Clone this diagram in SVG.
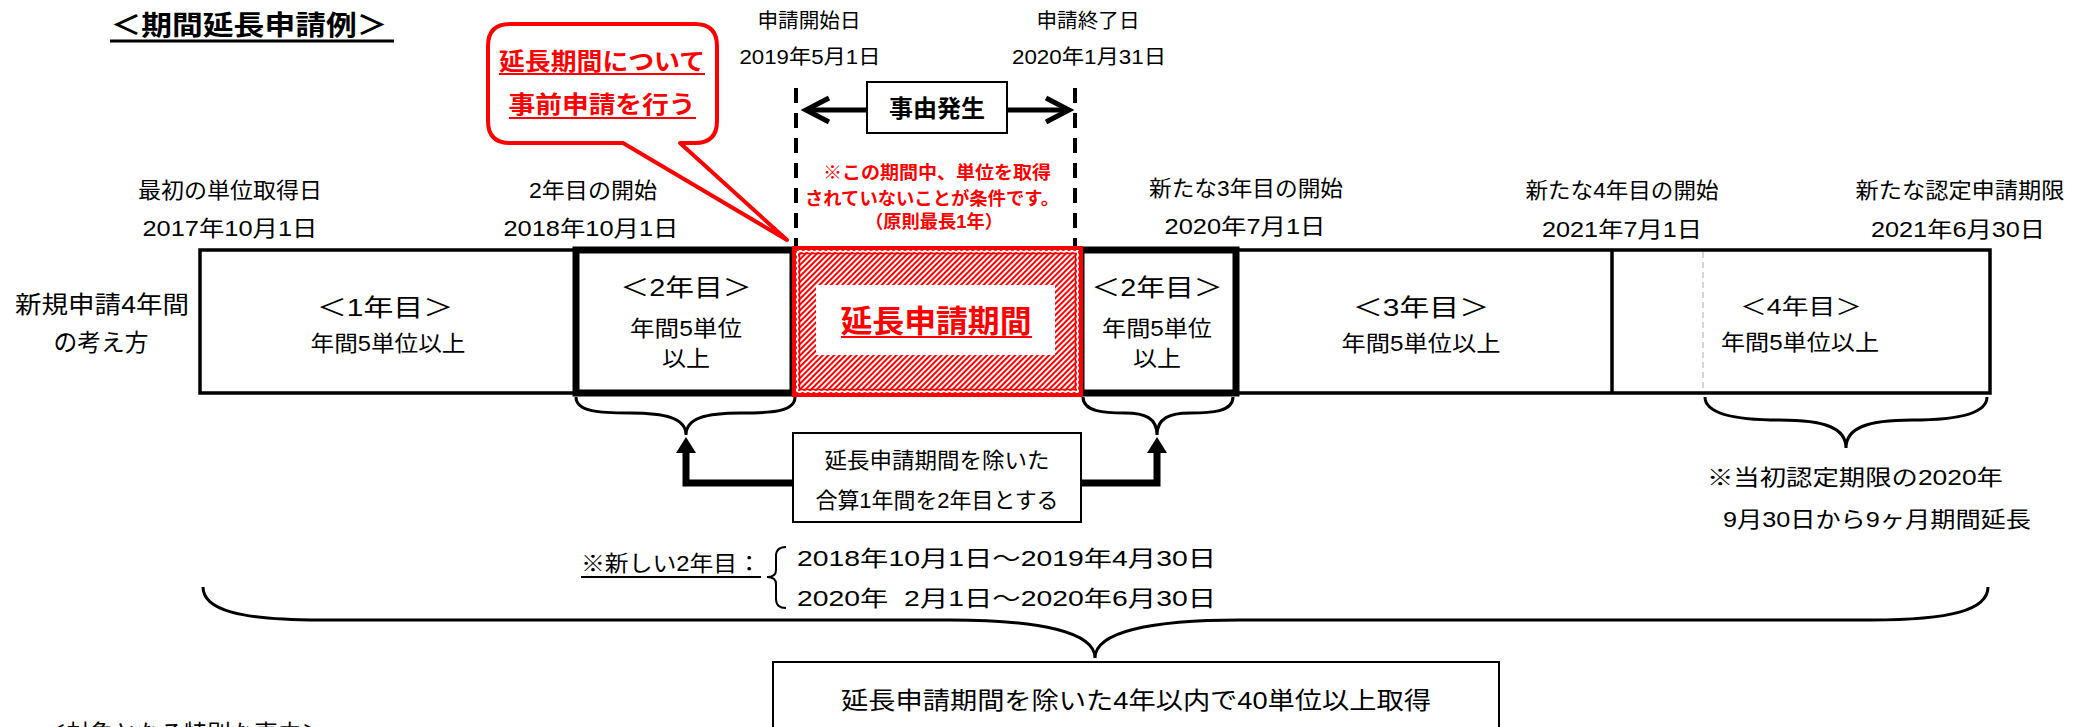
<svg xmlns="http://www.w3.org/2000/svg" width="2087" height="727" viewBox="0 0 2087 727">
<style>
text{font-family:"Liberation Sans","Noto Sans CJK JP",sans-serif;fill:#000;}
.c{text-anchor:middle;}
.b{font-weight:bold;}
.r{fill:#ff0000;}
.t20{font-size:20px;}
.t21{font-size:21.5px;}
.t22{font-size:22px;}
.t23{font-size:23.5px;}
.t24{font-size:24px;}
.pre{white-space:pre;}
.box{fill:#fff;stroke:#000;stroke-width:2;}
.brace{fill:none;stroke:#000;stroke-width:3;}
.conn{fill:none;stroke:#000;stroke-width:7;}
.dash{fill:none;stroke:#000;stroke-width:4;stroke-dasharray:15 10;}
.ul{stroke:#000;stroke-width:2;}
.ulr{stroke:#ff0000;stroke-width:2;}
</style>
<defs>
<pattern id="hatch" width="4" height="4" patternUnits="userSpaceOnUse" patternTransform="rotate(45)">
<rect width="4" height="4" fill="#fff"/>
<line x1="1" y1="0" x2="1" y2="4" stroke="#ff0000" stroke-width="2"/>
</pattern>
</defs>
<rect width="2087" height="727" fill="#fff"/>

<g id="title">
<text class="b" x="249" y="35" font-size="27" text-anchor="middle" textLength="277" lengthAdjust="spacingAndGlyphs">＜期間延長申請例＞</text>
<line x1="110" y1="41" x2="394" y2="41" stroke="#000" stroke-width="3"/>
</g>

<g id="callout">
<path d="M510,24 H695 Q717,24 717,46 V121 Q717,143 695,143 H680 L787,240 L623,143 H510 Q488,143 488,121 V46 Q488,24 510,24 Z" fill="#fff" stroke="#ff0000" stroke-width="4" stroke-linejoin="round"/>
<text class="b r c" x="602" y="70" font-size="24" textLength="206" lengthAdjust="spacingAndGlyphs">延長期間について</text>
<line class="ulr" x1="499" y1="74" x2="705" y2="74"/>
<text class="b r c" x="602" y="113" font-size="24" textLength="187" lengthAdjust="spacingAndGlyphs">事前申請を行う</text>
<line class="ulr" x1="509" y1="118" x2="696" y2="118"/>
</g>

<g id="labels-top">
<text class="c t20" x="809" y="28" textLength="103" lengthAdjust="spacingAndGlyphs">申請開始日</text>
<text class="c t20" x="810" y="64" textLength="141" lengthAdjust="spacingAndGlyphs">2019年5月1日</text>
<text class="c t20" x="1088" y="28" textLength="103" lengthAdjust="spacingAndGlyphs">申請終了日</text>
<text class="c t20" x="1089" y="64" textLength="154" lengthAdjust="spacingAndGlyphs">2020年1月31日</text>
<text class="c t21" x="230" y="198" textLength="184" lengthAdjust="spacingAndGlyphs">最初の単位取得日</text>
<text class="c t21" x="230" y="236" textLength="175" lengthAdjust="spacingAndGlyphs">2017年10月1日</text>
<text class="c t21" x="593" y="198" textLength="128" lengthAdjust="spacingAndGlyphs">2年目の開始</text>
<text class="c t21" x="591" y="236" textLength="175" lengthAdjust="spacingAndGlyphs">2018年10月1日</text>
<text class="c t21" x="1246" y="196" textLength="194" lengthAdjust="spacingAndGlyphs">新たな3年目の開始</text>
<text class="c t21" x="1245" y="234" textLength="161" lengthAdjust="spacingAndGlyphs">2020年7月1日</text>
<text class="c t21" x="1622" y="198" textLength="193" lengthAdjust="spacingAndGlyphs">新たな4年目の開始</text>
<text class="c t21" x="1622" y="237" textLength="160" lengthAdjust="spacingAndGlyphs">2021年7月1日</text>
<text class="c t21" x="1960" y="198" textLength="209" lengthAdjust="spacingAndGlyphs">新たな認定申請期限</text>
<text class="c t21" x="1958" y="237" textLength="174" lengthAdjust="spacingAndGlyphs">2021年6月30日</text>
<text class="c t23" x="102" y="313" textLength="174" lengthAdjust="spacingAndGlyphs">新規申請4年間</text>
<text class="c t23" x="101" y="351" textLength="95" lengthAdjust="spacingAndGlyphs">の考え方</text>
</g>

<g id="event">
<line class="dash" x1="796" y1="88" x2="796" y2="248"/>
<line class="dash" x1="1075" y1="88" x2="1075" y2="248"/>
<line x1="806" y1="110" x2="1068" y2="110" stroke="#000" stroke-width="5"/>
<path d="M829,98 L806,110 L829,122 M1046,98 L1069,110 L1046,122" fill="none" stroke="#000" stroke-width="5" stroke-linejoin="miter"/>
<rect class="box" x="867" y="82" width="140" height="51"/>
<text class="c b t23" x="937" y="117" textLength="96" lengthAdjust="spacingAndGlyphs">事由発生</text>
<text class="c b r" x="937" y="179" font-size="18" textLength="228" lengthAdjust="spacingAndGlyphs">※この期間中、単位を取得</text>
<text class="c b r" x="932" y="205" font-size="18" textLength="254" lengthAdjust="spacingAndGlyphs">されていないことが条件です。</text>
<text class="c b r" x="934" y="228" font-size="18" textLength="138" lengthAdjust="spacingAndGlyphs">（原則最長1年）</text>
</g>

<g id="timeline">
<rect x="200" y="250" width="1790" height="143" fill="#fff" stroke="#000" stroke-width="3.5"/>
<line x1="1612" y1="250" x2="1612" y2="393" stroke="#000" stroke-width="3.5"/>
<line x1="1703" y1="252" x2="1703" y2="391" stroke="#aaa" stroke-width="1" stroke-dasharray="6 4"/>
</g>

<g id="year1">
<text class="c t23" x="385" y="316" textLength="136" lengthAdjust="spacingAndGlyphs">＜1年目＞</text>
<text class="c t21" x="388" y="351" textLength="155" lengthAdjust="spacingAndGlyphs">年間5単位以上</text>
</g>

<g id="year2a">
<rect x="576" y="250" width="217" height="143" fill="none" stroke="#000" stroke-width="7"/>
<text class="c t23" x="686" y="296" textLength="131" lengthAdjust="spacingAndGlyphs">＜2年目＞</text>
<text class="c t21" x="686" y="336" textLength="112" lengthAdjust="spacingAndGlyphs">年間5単位</text>
<text class="c t21" x="686" y="366" textLength="48" lengthAdjust="spacingAndGlyphs">以上</text>
</g>

<g id="year2b">
<rect x="1081" y="250" width="155" height="143" fill="none" stroke="#000" stroke-width="7"/>
<text class="c t23" x="1157" y="296" textLength="131" lengthAdjust="spacingAndGlyphs">＜2年目＞</text>
<text class="c t21" x="1157" y="336" textLength="110" lengthAdjust="spacingAndGlyphs">年間5単位</text>
<text class="c t21" x="1157" y="366" textLength="48" lengthAdjust="spacingAndGlyphs">以上</text>
</g>

<g id="extension">
<rect x="794" y="248" width="287" height="147" fill="url(#hatch)" stroke="#ff0000" stroke-width="4"/>
<rect x="797.5" y="251.5" width="280" height="140" fill="none" stroke="#fff" stroke-width="1.2"/>
<rect x="799.5" y="253.5" width="276" height="136" fill="none" stroke="#ff0000" stroke-width="1.5"/>
<rect x="816" y="285" width="239" height="70" fill="#fff"/>
<text class="c b r" x="936" y="332" font-size="31" textLength="191" lengthAdjust="spacingAndGlyphs">延長申請期間</text>
<line class="ulr" x1="841" y1="337" x2="1032" y2="337" stroke-width="2.5"/>
</g>

<g id="year3">
<text class="c t23" x="1421" y="316" textLength="136" lengthAdjust="spacingAndGlyphs">＜3年目＞</text>
<text class="c t21" x="1421" y="351" textLength="159" lengthAdjust="spacingAndGlyphs">年間5単位以上</text>
</g>

<g id="year4">
<text class="c t22" x="1801" y="314" textLength="122" lengthAdjust="spacingAndGlyphs">＜4年目＞</text>
<text class="c t21" x="1800" y="350" textLength="158" lengthAdjust="spacingAndGlyphs">年間5単位以上</text>
</g>

<g id="connectors">
<path class="brace" d="M576,397 C576,412 600,413 630,413 C665,413 686,418 686,435 M795,397 C795,412 771,413 741,413 C706,413 686,418 686,435"/>
<path class="brace" d="M1083,397 C1083,412 1105,413 1125,413 C1145,413 1157,418 1157,435 M1233,397 C1233,412 1211,413 1190,413 C1170,413 1157,418 1157,435"/>
<path class="brace" d="M1705,397 C1705,415 1740,420 1780,420 C1825,420 1846,428 1846,448 M1987,397 C1987,415 1952,420 1912,420 C1867,420 1846,428 1846,448"/>
<path class="brace" d="M203,587 C203,610 240,620 320,620 L950,620 C1040,620 1095,632 1095,658 M1988,587 C1988,610 1951,620 1871,620 L1240,620 C1150,620 1095,632 1095,658"/>
<path class="conn" d="M793,483 H686 V450"/>
<polygon points="686,437 676,453 696,453" fill="#000"/>
<path class="conn" d="M1081,483 H1157 V450"/>
<polygon points="1157,437 1147,453 1167,453" fill="#000"/>
<path d="M786,547 C779,547 776,550 776,556 V570 C776,575 772,577 767,577 C772,577 776,579 776,584 V599 C776,605 779,608 786,608" fill="none" stroke="#000" stroke-width="2"/>
</g>

<g id="combine-box">
<rect class="box" x="793" y="433" width="288" height="89"/>
<text class="c t22" x="937" y="468" textLength="225" lengthAdjust="spacingAndGlyphs">延長申請期間を除いた</text>
<text class="c t22" x="937" y="508" textLength="243" lengthAdjust="spacingAndGlyphs">合算1年間を2年目とする</text>
</g>

<g id="new-year2">
<text class="c t22" x="671" y="571" textLength="180" lengthAdjust="spacingAndGlyphs">※新しい2年目：</text>
<line class="ul" x1="581" y1="577" x2="761" y2="577"/>
<text class="t22" x="797" y="566" textLength="419" lengthAdjust="spacingAndGlyphs">2018年10月1日～2019年4月30日</text>
<text class="t22 pre" x="797" y="606" textLength="419" lengthAdjust="spacingAndGlyphs">2020年  2月1日～2020年6月30日</text>
</g>

<g id="note4">
<text class="c t22" x="1855" y="485" textLength="296" lengthAdjust="spacingAndGlyphs">※当初認定期限の2020年</text>
<text class="c t22" x="1877" y="527" textLength="308" lengthAdjust="spacingAndGlyphs">9月30日から9ヶ月期間延長</text>
</g>

<g id="total-box">
<rect class="box" x="773" y="662" width="726" height="90"/>
<text class="c t24" x="1136" y="709" textLength="590" lengthAdjust="spacingAndGlyphs">延長申請期間を除いた4年以内で40単位以上取得</text>
</g>

<g id="cut-heading">
<text class="c t24" x="184" y="742" textLength="282" lengthAdjust="spacingAndGlyphs">＜対象となる特別な事由＞</text>
</g>
</svg>
